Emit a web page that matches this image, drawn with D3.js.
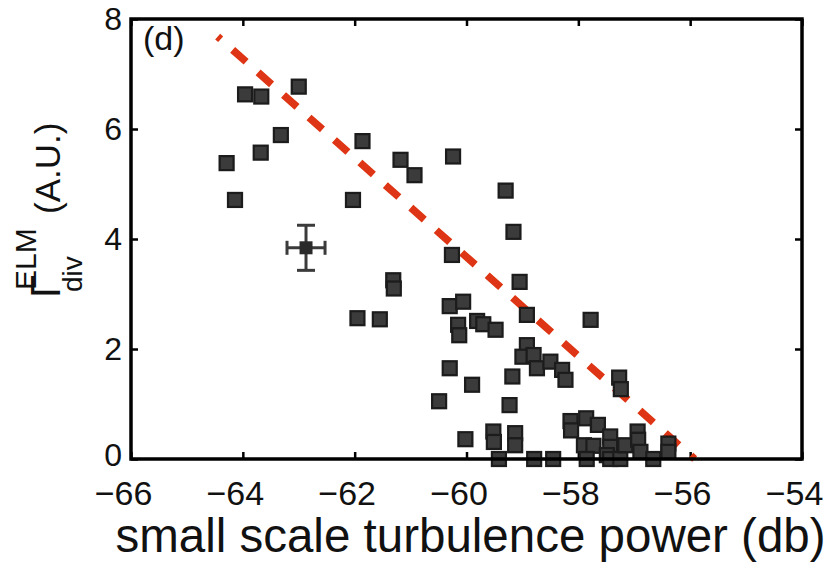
<!DOCTYPE html>
<html>
<head>
<meta charset="utf-8">
<script src="https://cdn.jsdelivr.net/npm/d3@7"></script>
<style>
  body { margin: 0; background: #fff; }
  svg { display: block; font-family: "Liberation Sans", Arial, Helvetica, sans-serif; }
</style>
</head>
<body>
<svg id="chart"></svg>
<script>
// values
var powerDb = [-63.96, -63.67, -63.00, -63.32, -63.68, -64.29, -64.14, -61.86, -62.03, -61.18,
               -60.93, -60.24, -59.30, -59.16, -60.26, -61.31, -61.30, -61.95, -61.55, -60.30,
               -60.06, -60.15, -60.13, -60.30, -60.49, -59.90, -60.02, -59.05, -59.81, -59.70,
               -59.48, -58.92, -57.78, -58.92, -59.00, -58.80, -58.74, -58.50, -58.29, -58.23,
               -59.18, -59.23, -57.27, -57.24, -59.52, -59.51, -59.13, -59.13, -59.42, -58.79,
               -58.45, -58.14, -58.13, -57.86, -57.65, -57.90, -57.73, -57.43, -57.43, -57.49,
               -57.85, -57.43, -57.25, -57.16, -56.94, -56.93, -56.89, -56.66, -56.39, -56.39];
var elmFlux = [6.63, 6.59, 6.77, 5.89, 5.57, 5.38, 4.71, 5.78, 4.71, 5.44,
               5.16, 5.50, 4.88, 4.13, 3.71, 3.25, 3.10, 2.56, 2.54, 2.78,
               2.86, 2.44, 2.25, 1.65, 1.05, 1.35, 0.36, 3.22, 2.51, 2.45,
               2.35, 2.62, 2.53, 2.07, 1.86, 1.89, 1.65, 1.77, 1.62, 1.44,
               1.50, 0.98, 1.48, 1.27, 0.50, 0.31, 0.47, 0.25, 0.00, 0.00,
               0.00, 0.69, 0.52, 0.74, 0.62, 0.25, 0.24, 0.41, 0.22, 0.07,
               0.00, 0.00, 0.00, 0.25, 0.50, 0.35, 0.13, 0.00, 0.28, 0.13];
// typical error bar
var errPoint = [-62.87, 3.84];
var errSize = [0.34, 0.41];
// dashed red bound
var boundLine = [[-64.45, 7.68], [-55.92, 0]];

var xTicks = [-66, -64, -62, -60, -58, -56, -54];
var yTicks = [0, 2, 4, 6, 8];

var w = 828, h = 563;
var plotL = 131, plotR = 802, plotT = 19, plotB = 459;

var svg = d3.select("#chart").attr("width", w).attr("height", h);

var x = d3.scaleLinear().domain([-66, -54]).range([plotL, plotR]);
var y = d3.scaleLinear().domain([0, 8]).range([plotB, plotT]);

var defs = svg.append("defs");
defs.append("filter").attr("id", "soft")
  .append("feGaussianBlur").attr("stdDeviation", 0.7);

// axes: ticks pointing in, on all four sides
function styleAxis(g){
  g.select(".domain").remove();
  g.selectAll(".tick line").attr("stroke", "#000").attr("stroke-width", 2.5);
  g.selectAll(".tick text").attr("fill", "#111").style("font-size", "32px");
}

svg.append("g")
  .attr("transform", "translate(0," + plotB + ")")
  .call(d3.axisBottom(x).tickValues(xTicks).tickSize(-7).tickPadding(22)
        .tickFormat(function(d){ return d3.format("d")(d).replace("-", "\u2212"); }))
  .call(styleAxis)
  .call(function(g){
    g.selectAll(".tick text").style("font-size", "34px").attr("dx", -8);
  });

svg.append("g")
  .attr("transform", "translate(0," + plotT + ")")
  .call(d3.axisTop(x).tickValues(xTicks).tickSize(-7).tickFormat(""))
  .call(styleAxis);

svg.append("g")
  .attr("transform", "translate(" + plotL + ",0)")
  .call(d3.axisLeft(y).tickValues(yTicks).tickSize(-7).tickPadding(9))
  .call(styleAxis)
  .call(function(g){
    // the zero label sits a little high so it clears the x labels
    g.selectAll(".tick text").filter(function(d){ return d === 0; }).attr("dy", "0.2em");
  });

svg.append("g")
  .attr("transform", "translate(" + plotR + ",0)")
  .call(d3.axisRight(y).tickValues(yTicks).tickSize(-7).tickFormat(""))
  .call(styleAxis);

// dashed bound line
svg.append("line")
  .attr("x1", x(boundLine[0][0])).attr("y1", y(boundLine[0][1]))
  .attr("x2", x(boundLine[1][0])).attr("y2", y(boundLine[1][1]))
  .attr("stroke", "#de3412")
  .attr("stroke-width", 7.5)
  .attr("stroke-dasharray", "18,16")
  .attr("stroke-dashoffset", 14)
  .attr("filter", "url(#soft)");

// square markers
var pts = powerDb.map(function(d, i){ return [d, elmFlux[i]]; });
var s = 14;
svg.append("g").attr("filter", "url(#soft)")
  .selectAll("rect")
  .data(pts)
  .enter()
  .append("rect")
    .attr("x", function(d){ return x(d[0]) - s / 2; })
    .attr("y", function(d){ return y(d[1]) - s / 2; })
    .attr("width", s)
    .attr("height", s)
    .attr("fill", "#3a3a3a")
    .attr("stroke", "#1c1c1c")
    .attr("stroke-width", 2.2);

// error bar
var eb = svg.append("g").attr("stroke", "#3a3a3a").attr("stroke-width", 3).attr("filter", "url(#soft)");
var ex = x(errPoint[0]), ey = y(errPoint[1]);
var exl = x(errPoint[0] - errSize[0]), exr = x(errPoint[0] + errSize[0]);
var eyt = y(errPoint[1] + errSize[1]), eyb = y(errPoint[1] - errSize[1]);
eb.append("line").attr("x1", exl).attr("x2", exr).attr("y1", ey).attr("y2", ey);
eb.append("line").attr("x1", ex).attr("x2", ex).attr("y1", eyt).attr("y2", eyb);
eb.append("line").attr("x1", ex - 9).attr("x2", ex + 9).attr("y1", eyt).attr("y2", eyt);
eb.append("line").attr("x1", ex - 9).attr("x2", ex + 9).attr("y1", eyb).attr("y2", eyb);
eb.append("line").attr("x1", exl).attr("x2", exl).attr("y1", ey - 7).attr("y2", ey + 7);
eb.append("line").attr("x1", exr).attr("x2", exr).attr("y1", ey - 7).attr("y2", ey + 7);
eb.append("rect").attr("x", ex - 6.5).attr("y", ey - 6.5).attr("width", 13).attr("height", 13)
  .attr("fill", "#2a2a2a").attr("stroke", "none");

// frame
svg.append("rect")
  .attr("x", plotL).attr("y", plotT)
  .attr("width", plotR - plotL).attr("height", plotB - plotT)
  .attr("fill", "none").attr("stroke", "#000").attr("stroke-width", 3.5);

// panel label
svg.append("text").attr("x", 143).attr("y", 50)
  .style("font-size", "34px").attr("fill", "#111").text("(d)");

// x title
svg.append("text")
  .attr("x", (plotL + plotR) / 2 + 4).attr("y", 552)
  .attr("text-anchor", "middle")
  .style("font-size", "47.5px").attr("fill", "#111")
  .text("small scale turbulence power (db)");

// y title: Gamma with sub/superscript
var yl = svg.append("g").attr("transform", "translate(60,298) rotate(-90)").attr("fill", "#111");
yl.append("text").attr("x", 0).attr("y", 0).style("font-size", "42px").text("\u0393");
yl.append("text").attr("x", 8).attr("y", -24).style("font-size", "30px").text("ELM");
yl.append("text").attr("x", 6).attr("y", 22).style("font-size", "28px").text("div");
yl.append("text").attr("x", 84).attr("y", 0).style("font-size", "35px").text("(A.U.)");
</script>
</body>
</html>
